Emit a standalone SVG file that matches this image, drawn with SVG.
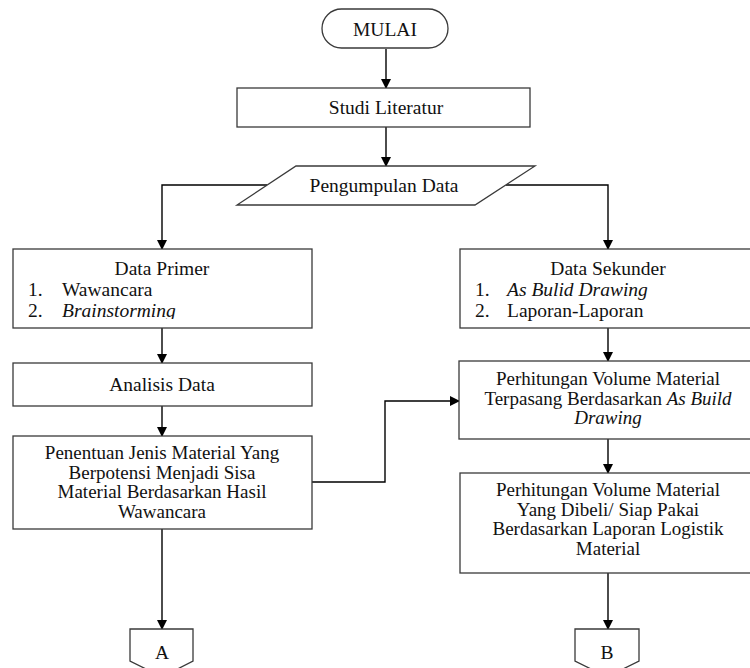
<svg xmlns="http://www.w3.org/2000/svg" width="750" height="668" viewBox="0 0 750 668">
<style>
.box{fill:#fff;stroke:#3a3a3a;stroke-width:1.3}
.ln{fill:none;stroke:#000;stroke-width:1.4}
.t{font-family:"Liberation Serif","Times New Roman","DejaVu Serif",serif;font-size:19.5px;fill:#111}
.m{font-size:19px}
.c{text-anchor:middle}
.i{font-style:italic}
</style>
<defs>
<marker id="ah" markerWidth="10" markerHeight="10" refX="9" refY="5" orient="auto" markerUnits="userSpaceOnUse">
<path d="M0,0 L10,5 L0,10 Z" fill="#000"/>
</marker>
<clipPath id="clipP"><rect x="13" y="249" width="299" height="70"/></clipPath>
</defs>
<rect width="750" height="668" fill="#fff"/>
<g id="connectors">
<line class="ln" x1="386" y1="49" x2="386" y2="88" marker-end="url(#ah)"/>
<line class="ln" x1="386" y1="127" x2="386" y2="166" marker-end="url(#ah)"/>
<polyline class="ln" points="267,185 162,185 162,249" marker-end="url(#ah)"/>
<polyline class="ln" points="506,185 608,185 608,249" marker-end="url(#ah)"/>
<line class="ln" x1="162" y1="328" x2="162" y2="363" marker-end="url(#ah)"/>
<line class="ln" x1="162" y1="406" x2="162" y2="436" marker-end="url(#ah)"/>
<polyline class="ln" points="312,482 385,482 385,401 459,401" marker-end="url(#ah)"/>
<line class="ln" x1="162" y1="529" x2="162" y2="629" marker-end="url(#ah)"/>
<line class="ln" x1="608" y1="328" x2="608" y2="361" marker-end="url(#ah)"/>
<line class="ln" x1="608" y1="439" x2="608" y2="473" marker-end="url(#ah)"/>
<line class="ln" x1="608" y1="573" x2="608" y2="629" marker-end="url(#ah)"/>
</g>
<g id="mulai">
<rect class="box" x="322" y="9" width="126" height="39" rx="19.5"/>
<text class="t c" x="385" y="36">MULAI</text>
</g>
<g id="studi">
<rect class="box" x="237" y="88" width="293" height="39"/>
<text class="t c" x="386" y="114">Studi Literatur</text>
</g>
<g id="pengumpulan">
<polygon class="box" points="296,166 535,166 475,205 237,205"/>
<text class="t c" x="384" y="192">Pengumpulan Data</text>
</g>
<g id="primer">
<rect class="box" x="13" y="249" width="299" height="79"/>
<text class="t c" x="162" y="275">Data Primer</text>
<text class="t" x="28" y="296">1.</text><text class="t" x="62" y="296">Wawancara</text>
<g clip-path="url(#clipP)"><text class="t" x="28" y="317">2.</text><text class="t i" x="62" y="317">Brainstorming</text></g>
</g>
<g id="analisis">
<rect class="box" x="13" y="363" width="299" height="43"/>
<text class="t c" x="162" y="391">Analisis Data</text>
</g>
<g id="penentuan">
<rect class="box" x="13" y="436" width="299" height="93"/>
<text class="t m c" x="162" y="459">Penentuan Jenis Material Yang</text>
<text class="t m c" x="162" y="478.5">Berpotensi Menjadi Sisa</text>
<text class="t m c" x="162" y="498">Material Berdasarkan Hasil</text>
<text class="t m c" x="162" y="517.5">Wawancara</text>
</g>
<g id="sekunder">
<rect class="box" x="460" y="249" width="299" height="79"/>
<text class="t c" x="608" y="275">Data Sekunder</text>
<text class="t" x="475" y="296">1.</text><text class="t i" x="507" y="296">As Bulid Drawing</text>
<text class="t" x="475" y="317">2.</text><text class="t" x="507" y="317">Laporan-Laporan</text>
</g>
<g id="volume1">
<rect class="box" x="459" y="361" width="300" height="78"/>
<text class="t m c" x="608" y="385">Perhitungan Volume Material</text>
<text class="t m c" x="608" y="404.5">Terpasang Berdasarkan <tspan class="i">As Build</tspan></text>
<text class="t m c i" x="608" y="424">Drawing</text>
</g>
<g id="volume2">
<rect class="box" x="460" y="473" width="299" height="100"/>
<text class="t m c" x="608" y="496">Perhitungan Volume Material</text>
<text class="t m c" x="608" y="515.5">Yang Dibeli/ Siap Pakai</text>
<text class="t m c" x="608" y="535">Berdasarkan Laporan Logistik</text>
<text class="t m c" x="608" y="554.5">Material</text>
</g>
<g id="A">
<polygon class="box" points="130,629 193,629 193,661 162,677 130,661"/>
<text class="t c" x="162" y="659">A</text>
</g>
<g id="B">
<polygon class="box" points="575,629 639,629 639,661 607,677 575,661"/>
<text class="t c" x="607" y="659">B</text>
</g>
</svg>
